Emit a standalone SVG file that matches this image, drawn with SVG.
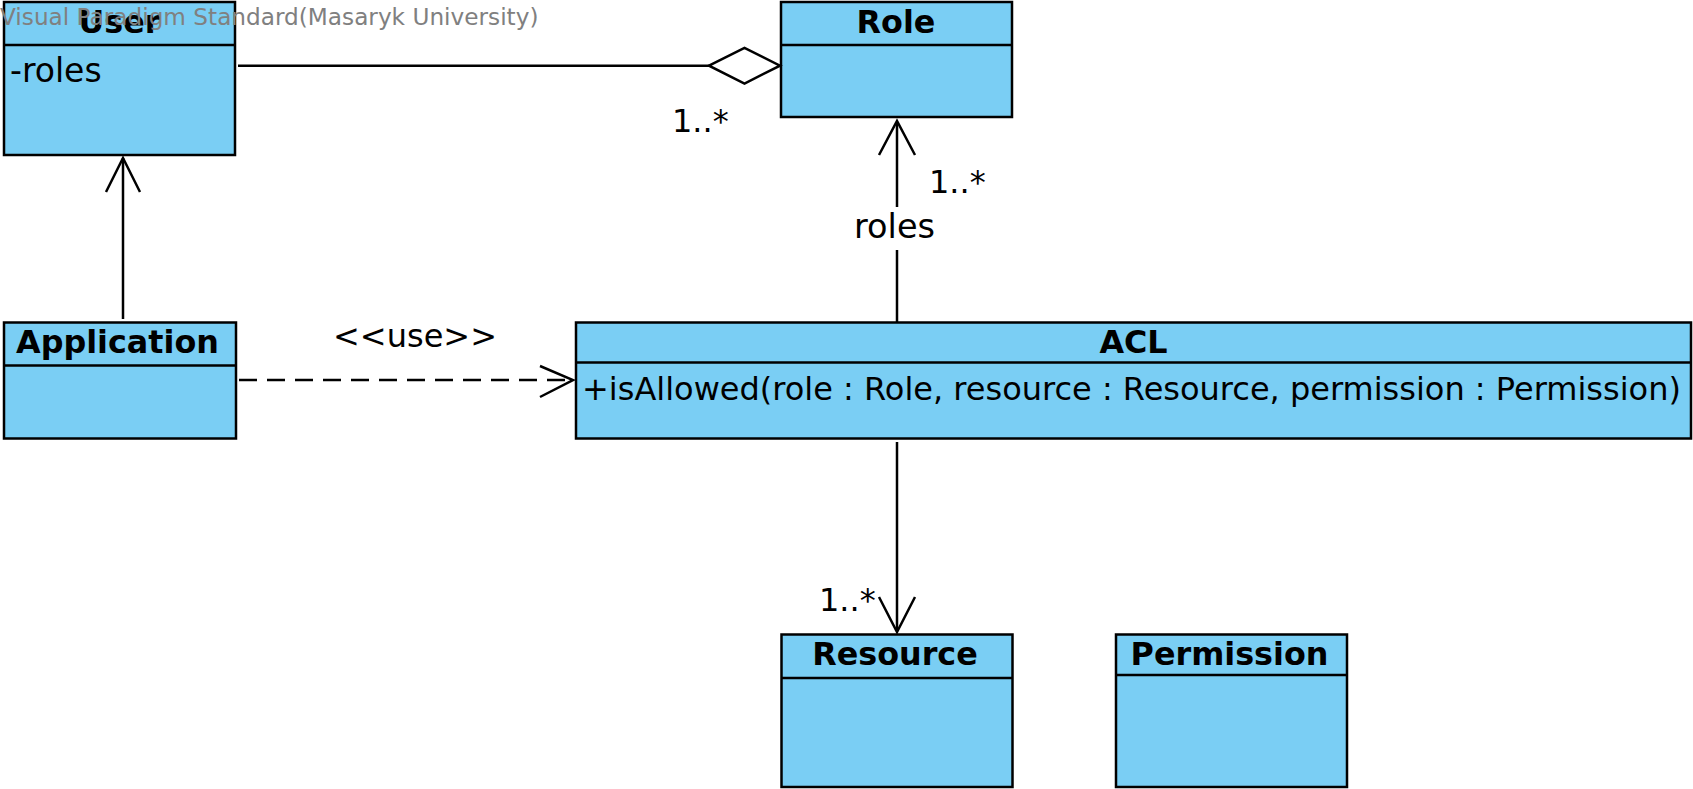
<svg xmlns="http://www.w3.org/2000/svg" width="1693" height="789" viewBox="0 0 1693 789">
<style>
.box{fill:#7ACEF4;stroke:#000;stroke-width:2.5}
.div{stroke:#000;stroke-width:2.5}
.title{font-family:"DejaVu Sans",sans-serif;font-weight:bold;font-size:31.8px;fill:#000;text-anchor:middle}
.txt{font-family:"DejaVu Sans",sans-serif;font-size:32px;fill:#000}
.ln{stroke:#000;stroke-width:2.5;fill:none}
.dash{stroke-dasharray:18 10}
.wm{font-family:"DejaVu Sans",sans-serif;font-size:23.2px;fill:#808080}
</style>
<rect width="1693" height="789" fill="#fff"/>
<g id="User">
<rect class="box" x="4" y="2" width="231" height="153"/>
<line class="div" x1="4" y1="45" x2="235" y2="45"/>
<text class="title" x="119.5" y="33">User</text>
<text class="txt" x="10" y="82" style="font-size:33px">-roles</text>
</g>
<g id="Role">
<rect class="box" x="781" y="2" width="231" height="115"/>
<line class="div" x1="781" y1="45" x2="1012" y2="45"/>
<text class="title" x="896" y="33">Role</text>
</g>
<g id="Application">
<rect class="box" x="4" y="322.5" width="232" height="116"/>
<line class="div" x1="4" y1="365.5" x2="236" y2="365.5"/>
<text class="title" x="117.5" y="353">Application</text>
</g>
<g id="ACL">
<rect class="box" x="576" y="322.5" width="1115" height="116"/>
<line class="div" x1="576" y1="362.5" x2="1691" y2="362.5"/>
<text class="title" x="1133.5" y="353">ACL</text>
<text class="txt" x="582" y="400">+isAllowed(role : Role, resource : Resource, permission : Permission)</text>
</g>
<g id="Resource">
<rect class="box" x="781.5" y="634.5" width="231" height="152.5"/>
<line class="div" x1="781.5" y1="678" x2="1012.5" y2="678"/>
<text class="title" x="895" y="665">Resource</text>
</g>
<g id="Permission">
<rect class="box" x="1116" y="634.5" width="231" height="152.5"/>
<line class="div" x1="1116" y1="675" x2="1347" y2="675"/>
<text class="title" x="1229.5" y="665">Permission</text>
</g>
<g id="connectors">
<line class="ln" x1="238" y1="65.7" x2="709" y2="65.7"/>
<polygon class="ln" style="fill:#fff" points="709,65.7 744.5,48 780,65.7 744.5,83.5"/>
<text class="txt" x="672" y="132">1..*</text>
<line class="ln" x1="897" y1="322" x2="897" y2="250"/>
<line class="ln" x1="897" y1="207" x2="897" y2="122"/>
<polyline class="ln" points="879,155 897,121 915,155"/>
<text class="txt" x="894.5" y="238" text-anchor="middle" style="font-size:33.5px">roles</text>
<text class="txt" x="929" y="193">1..*</text>
<line class="ln" x1="123" y1="319" x2="123" y2="158"/>
<polyline class="ln" points="106,192 123,158 140,192"/>
<line class="ln dash" x1="239" y1="380" x2="572" y2="380"/>
<polyline class="ln" points="540,366 573,380 540,397"/>
<text class="txt" x="415" y="347" text-anchor="middle">&lt;&lt;use&gt;&gt;</text>
<line class="ln" x1="897" y1="442" x2="897" y2="631"/>
<polyline class="ln" points="879,597 897,632 915,597"/>
<text class="txt" x="819" y="611">1..*</text>
</g>
<text class="wm" x="0" y="25">Visual Paradigm Standard(Masaryk University)</text>
</svg>
